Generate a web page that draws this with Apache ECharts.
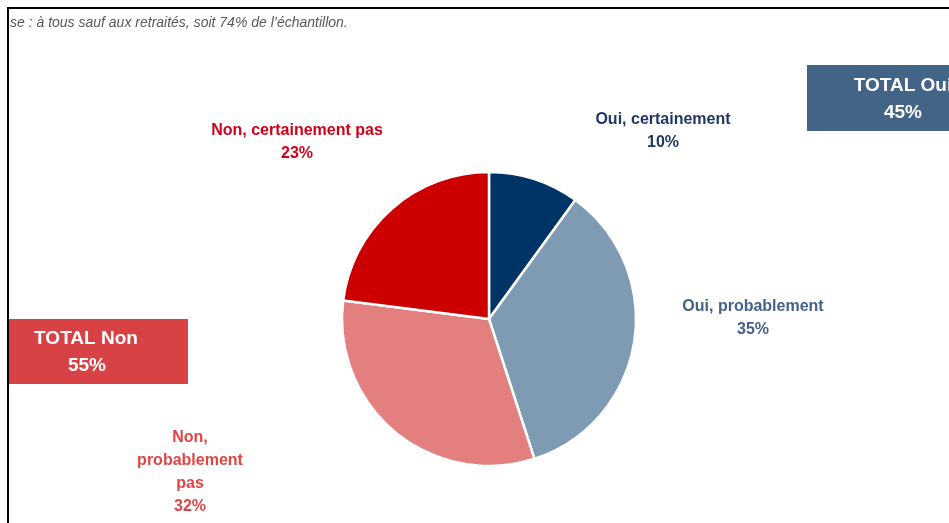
<!DOCTYPE html>
<html><head><meta charset="utf-8">
<script src="https://cdn.jsdelivr.net/npm/echarts@6/dist/echarts.min.js"></script>
<style>html,body{margin:0;padding:0;background:#fff;}#c{width:949px;height:523px;}</style>
</head><body><div id="c"></div>
<script>
const categories = ['Oui, certainement', 'Oui, probablement', 'Non, probablement pas', 'Non, certainement pas'];
const labelTexts = ['Oui, certainement', 'Oui, probablement', 'Non,\nprobablement\npas', 'Non, certainement pas'];
const values = [10, 35, 32, 23];
const sliceColors = ['#003366', '#7f9ab3', '#e47f7f', '#cc0000'];
const labelColors = ['#1f3864', '#44618a', '#e04545', '#d0001a'];
const totalLabels = ['TOTAL Oui', 'TOTAL Non'];
const totalValues = [45, 55];
const subtitle = 'se : à tous sauf aux retraités, soit 74% de l\u2019échantillon.';

const labelPos = [[663, 131], [753, 318], [190, 472], [297, 142]];
const FONT = 'Liberation Sans';

const chart = echarts.init(document.getElementById('c'), null, {renderer: 'canvas'});
chart.setOption({
  backgroundColor: '#fff',
  animation: false,
  series: [{
    type: 'pie',
    center: [489, 319],
    radius: [0, 147],
    startAngle: 90,
    clockwise: true,
    data: categories.map((c, i) => ({
      name: c, value: values[i],
      itemStyle: {color: sliceColors[i]},
      label: {color: labelColors[i]}
    })),
    itemStyle: {borderColor: '#fff', borderWidth: 2.5},
    labelLine: {show: false},
    label: {
      show: true,
      fontFamily: FONT, fontWeight: 'bold', fontSize: 16, lineHeight: 23,
      align: 'center',
      formatter: p => labelTexts[p.dataIndex] + '\n' + p.value + '%'
    },
    labelLayout: p => ({x: labelPos[p.dataIndex][0], y: labelPos[p.dataIndex][1], align: 'center', verticalAlign: 'middle'})
  }],
  graphic: [
    {type: 'rect', shape: {x: 8, y: 7, width: 941, height: 2}, style: {fill: '#000'}},
    {type: 'rect', shape: {x: 7, y: 7, width: 2, height: 516}, style: {fill: '#000'}},
    {type: 'text', left: 10, top: 16, style: {text: subtitle, font: 'italic 14px ' + FONT, fill: '#595959'}},
    {type: 'rect', shape: {x: 807, y: 65, width: 200, height: 66}, style: {fill: '#426487'}},
    {type: 'text', x: 903, y: 86, style: {text: totalLabels[0], font: 'bold 19px ' + FONT, fill: '#fff', align: 'center', verticalAlign: 'middle'}},
    {type: 'text', x: 903, y: 113, style: {text: totalValues[0] + '%', font: 'bold 19px ' + FONT, fill: '#fff', align: 'center', verticalAlign: 'middle'}},
    {type: 'rect', shape: {x: 9, y: 319, width: 179, height: 65}, style: {fill: '#d94244'}},
    {type: 'text', x: 86, y: 339, style: {text: totalLabels[1], font: 'bold 19px ' + FONT, fill: '#fff', align: 'center', verticalAlign: 'middle'}},
    {type: 'text', x: 87, y: 366, style: {text: totalValues[1] + '%', font: 'bold 19px ' + FONT, fill: '#fff', align: 'center', verticalAlign: 'middle'}}
  ]
});
</script></body></html>
